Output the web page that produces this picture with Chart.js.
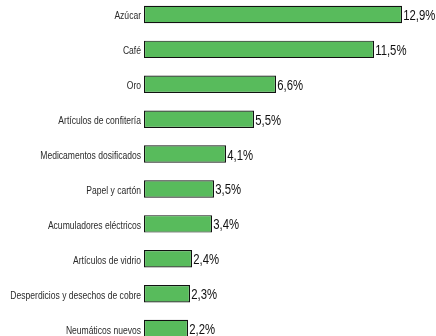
<!DOCTYPE html>
<html>
<head>
<meta charset="utf-8">
<script src="https://cdn.jsdelivr.net/npm/chart.js@4/dist/chart.umd.min.js"></script>
<style>
html,body{margin:0;padding:0;background:#fff;}
#wrap{position:relative;width:436px;height:336px;overflow:hidden;}
#box{position:absolute;left:0;top:-3.5px;width:436px;height:349px;}
</style>
</head>
<body>
<div id="wrap"><div id="box"><canvas id="c"></canvas></div></div>
<script>
const categories = ["Azúcar","Café","Oro","Artículos de confitería","Medicamentos dosificados","Papel y cartón","Acumuladores eléctricos","Artículos de vidrio","Desperdicios y desechos de cobre","Neumáticos nuevos"];
const values = [12.9, 11.5, 6.6, 5.5, 4.1, 3.5, 3.4, 2.4, 2.3, 2.2];
const valueLabels = ["12,9%","11,5%","6,6%","5,5%","4,1%","3,5%","3,4%","2,4%","2,3%","2,2%"];

const FONT = "'Liberation Sans', Arial, sans-serif";

function narrowText(ctx, text, x, y, size, sx, align, color) {
  ctx.save();
  ctx.font = size + "px " + FONT;
  ctx.fillStyle = color;
  ctx.textBaseline = "alphabetic";
  ctx.textAlign = align;
  ctx.translate(x, y);
  ctx.scale(sx, 1);
  ctx.fillText(text, 0, 0);
  ctx.restore();
}

const labelPlugin = {
  id: 'labels',
  afterDatasetsDraw(chart) {
    const ctx = chart.ctx;
    const meta = chart.getDatasetMeta(0);
    const yScale = chart.scales.y;
    meta.data.forEach((bar, i) => {
      narrowText(ctx, valueLabels[i], bar.x + 1.2, bar.y + 5.5, 14, 0.81, 'left', '#111');
      narrowText(ctx, categories[i], yScale.right - 3, bar.y + 5, 10.3, 0.83, 'right', '#2a2a2a');
    });
  }
};

new Chart(document.getElementById('c'), {
  type: 'bar',
  data: {
    labels: categories,
    datasets: [{
      data: values,
      backgroundColor: '#58BB5C',
      borderColor: '#111',
      borderWidth: 1.2,
      borderSkipped: false,
      barPercentage: 0.5,
      categoryPercentage: 1.0
    }]
  },
  options: {
    indexAxis: 'y',
    responsive: true,
    maintainAspectRatio: false,
    animation: false,
    layout: { padding: { left: 0, right: 2, top: 0, bottom: 0 } },
    plugins: { legend: { display: false }, tooltip: { enabled: false } },
    scales: {
      x: { display: false, min: 0, max: 14.5 },
      y: {
        grid: { display: false, drawTicks: false },
        border: { display: false },
        ticks: { display: false },
        afterFit(scale) { scale.width = 144; scale.paddingTop = 0; scale.paddingBottom = 0; }
      }
    }
  },
  plugins: [labelPlugin]
});
</script>
</body>
</html>
